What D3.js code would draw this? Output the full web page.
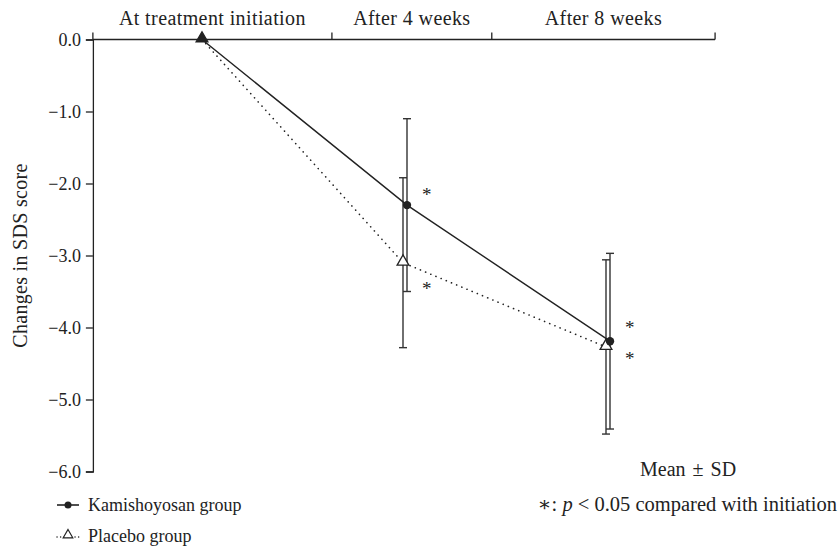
<!DOCTYPE html>
<html>
<head>
<meta charset="utf-8">
<script src="https://cdn.jsdelivr.net/npm/d3@7"></script>
<style>
  body { margin: 0; background: #fff; }
  svg text { font-family: "Liberation Serif", "DejaVu Serif", serif; fill: #222; }
</style>
</head>
<body>
<div id="chart"></div>
<script>
// data
const periods = ['At treatment initiation', 'After 4 weeks', 'After 8 weeks'];
const periodBounds = [-2.15, 2.56, 5.71, 10.11]; // period band edges in weeks
const weeks = [0, 4, 8];
const kamiMean = [0, -2.30, -4.19];
const kamiSD = [0, 1.20, 1.22];
const placeboMean = [0, -3.10, -4.27];
const placeboSD = [0, 1.18, 1.21];
const yTicks = [0, -1, -2, -3, -4, -5, -6];

const width = 839;
const height = 547;

const svg = d3.select('#chart').append('svg')
    .attr('width', width)
    .attr('height', height);

const x = d3.scaleLinear().domain([0, 8]).range([202, 608]);
const y = d3.scaleLinear().domain([0, -6]).range([39.5, 471.5]);
const dodge = 2;

// top category axis
const axisTop = svg.append('g');
axisTop.append('line')
    .attr('x1', x(periodBounds[0])).attr('x2', x(periodBounds[3]))
    .attr('y1', y(0)).attr('y2', y(0))
    .attr('stroke', '#222').attr('stroke-width', 1.3);
axisTop.selectAll('.ptick')
    .data(periodBounds)
    .enter().append('line')
    .attr('x1', d => x(d)).attr('x2', d => x(d))
    .attr('y1', y(0)).attr('y2', y(0) - 7)
    .attr('stroke', '#222').attr('stroke-width', 1.3);
axisTop.selectAll('.plabel')
    .data(periods)
    .enter().append('text')
    .attr('x', (d, i) => (x(periodBounds[i]) + x(periodBounds[i + 1])) / 2)
    .attr('y', 25)
    .attr('text-anchor', 'middle')
    .style('font-size', '20px')
    .style('letter-spacing', '0.4px')
    .text(d => d);

// y axis
const yAxis = d3.axisLeft(y)
    .tickValues(yTicks)
    .tickSize(7)
    .tickPadding(5)
    .tickFormat(d => d3.format('.1f')(d).replace('-', '\u2212'));
const gy = svg.append('g')
    .attr('transform', 'translate(' + x(periodBounds[0]) + ',0)')
    .call(yAxis);
gy.select('.domain').attr('stroke', '#222').attr('stroke-width', 1.3);
gy.selectAll('.tick line').attr('stroke', '#222').attr('stroke-width', 1.3);
gy.selectAll('.tick text')
    .style('font-family', '"Liberation Serif", serif')
    .style('font-size', '18px')
    .attr('fill', '#222');

svg.append('text')
    .attr('transform', 'translate(27,' + y(-3) + ') rotate(-90)')
    .attr('text-anchor', 'middle')
    .style('font-size', '20px')
    .style('letter-spacing', '0.3px')
    .text('Changes in SDS score');

// series
function series(mean, sd, off) {
    return weeks.map((w, i) => ({ w: w, m: mean[i], sd: sd[i], off: i === 0 ? 0 : off }));
}
const kami = series(kamiMean, kamiSD, dodge);
const placebo = series(placeboMean, placeboSD, -dodge);

// error bars
function errorBars(data) {
    const g = svg.append('g');
    const d2 = data.filter(d => d.sd > 0);
    g.selectAll('.eb')
        .data(d2)
        .enter().append('line')
        .attr('x1', d => x(d.w) + d.off).attr('x2', d => x(d.w) + d.off)
        .attr('y1', d => y(d.m + d.sd)).attr('y2', d => y(d.m - d.sd))
        .attr('stroke', '#333').attr('stroke-width', 1.4);
    [1, -1].forEach(s => {
        g.selectAll('.cap' + s)
            .data(d2)
            .enter().append('line')
            .attr('x1', d => x(d.w) + d.off - 4).attr('x2', d => x(d.w) + d.off + 4)
            .attr('y1', d => y(d.m + s * d.sd)).attr('y2', d => y(d.m + s * d.sd))
            .attr('stroke', '#333').attr('stroke-width', 1.4);
    });
}
errorBars(placebo);
errorBars(kami);

const line = d3.line()
    .x(d => x(d.w) + d.off)
    .y(d => y(d.m));

svg.append('path')
    .datum(placebo)
    .attr('d', line)
    .attr('fill', 'none')
    .attr('stroke', '#222')
    .attr('stroke-width', 1.6)
    .attr('stroke-linecap', 'round')
    .attr('stroke-dasharray', '0.1,5.5');

svg.append('path')
    .datum(kami)
    .attr('d', line)
    .attr('fill', 'none')
    .attr('stroke', '#222')
    .attr('stroke-width', 1.4);

const tri = d3.symbol().type(d3.symbolTriangle).size(60);

svg.selectAll('.pmark')
    .data(placebo)
    .enter().append('path')
    .attr('d', tri)
    .attr('transform', d => 'translate(' + (x(d.w) + d.off) + ',' + (y(d.m) - 1) + ')')
    .attr('fill', d => d.w === 0 ? '#222' : '#fff')
    .attr('stroke', '#222')
    .attr('stroke-width', 1.3);

svg.selectAll('.kmark')
    .data(kami.filter(d => d.w !== 0))
    .enter().append('circle')
    .attr('cx', d => x(d.w) + d.off)
    .attr('cy', d => y(d.m))
    .attr('r', 4.2)
    .attr('fill', '#222');

// significance asterisks
const sig = kami.filter(d => d.w > 0).map(d => ({ w: d.w, m: d.m, dy: d.w === 4 ? -4 : -7 }))
    .concat(placebo.filter(d => d.w > 0).map(d => ({ w: d.w, m: d.m, dy: d.w === 4 ? 32 : 18 })));
svg.selectAll('.sig')
    .data(sig)
    .enter().append('text')
    .attr('x', d => x(d.w) + 17)
    .attr('y', d => y(d.m) + d.dy)
    .attr('text-anchor', 'start')
    .style('font-size', '19px')
    .attr('fill', '#555')
    .text('*');

// notes
svg.append('text')
    .attr('x', 640).attr('y', 476)
    .style('font-size', '20px')
    .style('word-spacing', '2px')
    .text('Mean \u00b1 SD');

const note = svg.append('text')
    .attr('x', 837).attr('y', 511)
    .attr('text-anchor', 'end')
    .style('font-size', '20.5px');
note.append('tspan').text('\u2217: ');
note.append('tspan').style('font-style', 'italic').text('p');
note.append('tspan').text(' < 0.05 compared with initiation');

// legend
const legend = svg.append('g');
legend.append('line')
    .attr('x1', 57).attr('x2', 79).attr('y1', 505).attr('y2', 505)
    .attr('stroke', '#222').attr('stroke-width', 1.6);
legend.append('circle')
    .attr('cx', 68).attr('cy', 505).attr('r', 3.5).attr('fill', '#222');
legend.append('text')
    .attr('x', 88).attr('y', 511)
    .style('font-size', '18px')
    .text('Kamishoyosan group');
legend.append('line')
    .attr('x1', 57).attr('x2', 79).attr('y1', 537).attr('y2', 537)
    .attr('stroke', '#222').attr('stroke-width', 1.4)
    .attr('stroke-linecap', 'round')
    .attr('stroke-dasharray', '0.1,3.5');
legend.append('path')
    .attr('d', d3.symbol().type(d3.symbolTriangle).size(40))
    .attr('transform', 'translate(68,535)')
    .attr('fill', '#fff').attr('stroke', '#222').attr('stroke-width', 1.2);
legend.append('text')
    .attr('x', 88).attr('y', 542)
    .style('font-size', '18px')
    .text('Placebo group');
</script>
</body>
</html>
